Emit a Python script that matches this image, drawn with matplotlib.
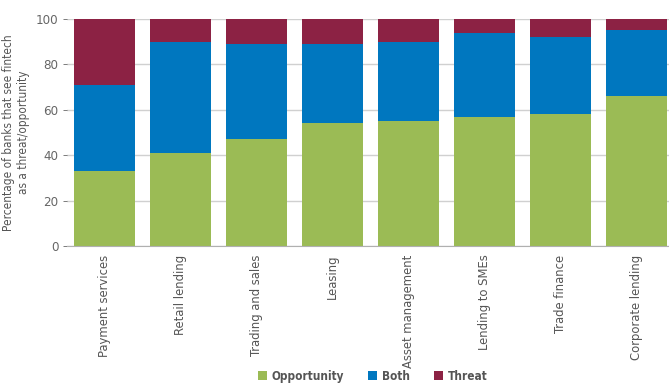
import numpy as np
import matplotlib.pyplot as plt

categories = ['Payment services', 'Retail lending', 'Trading and sales', 'Leasing',
              'Asset management', 'Lending to SMEs', 'Trade finance', 'Corporate lending']
opportunity = np.array([33, 41, 47, 54, 55, 57, 58, 66])
both = np.array([38, 49, 42, 35, 35, 37, 34, 29])
threat = 100 - opportunity - both

plt.rcParams['font.family'] = ['DejaVu Sans']
plt.rcParams['font.stretch'] = 'condensed'

fig = plt.figure(figsize=(6.69, 3.84), dpi=100)
ax = fig.add_axes([0.0997, 0.359, 0.9003, 0.5915])

x = np.arange(len(categories))
w = 0.8
ax.bar(x, opportunity, w, color='#9bbb55', label='Opportunity', zorder=2)
ax.bar(x, both, w, bottom=opportunity, color='#0077bf', label='Both', zorder=2)
ax.bar(x, threat, w, bottom=opportunity + both, color='#8c2244', label='Threat', zorder=2)

ax.set_xlim(-0.5, 7.43)
ax.set_ylim(0, 100)
ax.set_yticks([0, 20, 40, 60, 80, 100])
ax.yaxis.grid(True, color='#d0d0d0', linewidth=1, zorder=0)
ax.set_xticks(x)
ax.set_xticklabels(categories, rotation=90, fontsize=9.3, color='#555555')
ax.tick_params(axis='y', labelsize=9.5, colors='#666666', length=3, width=0.6, pad=3)
ax.tick_params(axis='x', length=0, pad=6)
for s in ['top', 'right', 'left']:
    ax.spines[s].set_visible(False)
ax.spines['bottom'].set_color('#b0b0b0')
ax.set_ylabel('Percentage of banks that see fintech\nas a threat/opportunity', fontsize=8.5,
              color='#555555', labelpad=4)

fig.legend(loc='center', bbox_to_anchor=(0.557, 0.02), ncol=3, frameon=False,
           handlelength=0.8, handleheight=0.8, handletextpad=0.4, columnspacing=2.0,
           prop={'size': 8.5, 'weight': 'bold', 'stretch': 'condensed'}, labelcolor='#555555')

fig.savefig('out.png', dpi=100)
